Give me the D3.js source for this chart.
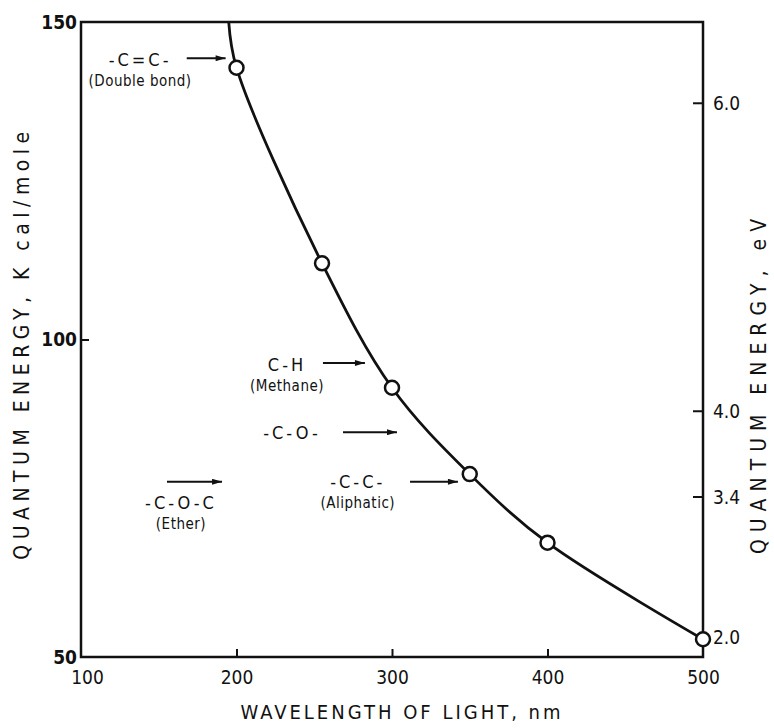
<!DOCTYPE html>
<html>
<head>
<meta charset="utf-8">
<script src="https://cdn.jsdelivr.net/npm/d3@7"></script>
<style>
  body { margin: 0; background: #fff; }
  svg text { font-family: "DejaVu Sans Condensed", "Liberation Sans Narrow", sans-serif; fill: #111; }
</style>
</head>
<body>
<svg id="chart" width="774" height="728"></svg>
<script>
// wavelength (nm) vs quantum energy (kcal/mole)
const wavelengths = [200, 255, 300, 350, 400, 500];
const energies = [142.8, 112.0, 92.4, 78.8, 68.0, 52.8];
// curve continues past the first marker up to the top edge
const curveStart = { wl: 195, e: 150 };

const xTicks = [100, 200, 300, 400, 500];
const yTicks = [50, 100, 150];
const evLabels = ["6.0", "4.0", "3.4", "2.0"];
const evAsKcal = [137.2, 88.7, 75.2, 53.1];

// bond annotations: label, sub label, text anchor (wavelength, energy), arrow span in nm and its energy
const bondNames = ["-C=C-", "C-H", "-C-O-", "-C-C-", "-C-O-C"];
const bondNotes = ["(Double bond)", "(Methane)", "", "(Aliphatic)", "(Ether)"];
const bondTextAt = [[138, 144.0], [232.5, 96.0], [235.7, 85.4], [278, 77.6], [164.3, 74.3]];
const bondArrowWl = [[168, 193], [255.6, 282.6], [268.5, 303.2], [311.6, 342.4], [155.3, 190.7]];
const bondArrowE = [144.3, 96.3, 85.4, 77.6, 77.6];

const svg = d3.select("#chart");
const margin = { top: 22, right: 71, bottom: 71, left: 81 };
const W = 774, H = 728;

const x = d3.scaleLinear().domain([100, 500]).range([margin.left, W - margin.right]);
const y = d3.scaleLinear().domain([50, 150]).range([H - margin.bottom, margin.top]);

svg.append("defs").append("marker")
  .attr("id", "head")
  .attr("viewBox", "0 0 10 6")
  .attr("refX", 10).attr("refY", 3)
  .attr("markerWidth", 11).attr("markerHeight", 6)
  .attr("markerUnits", "userSpaceOnUse")
  .attr("orient", "auto")
  .append("path").attr("d", "M0,0L10,3L0,6Z").attr("fill", "#111");

// frame
svg.append("rect")
  .attr("x", x(100)).attr("y", y(150))
  .attr("width", x(500) - x(100)).attr("height", y(50) - y(150))
  .attr("fill", "none").attr("stroke", "#111").attr("stroke-width", 2.5);

// bottom axis, ticks pointing inward
const xAxis = svg.append("g")
  .attr("transform", `translate(0,${y(50)})`)
  .call(d3.axisBottom(x).tickValues(xTicks).tickSize(-8).tickPadding(14).tickFormat(d3.format("d")));
xAxis.select(".domain").remove();
xAxis.selectAll("line").attr("stroke", "#111").attr("stroke-width", 2);
xAxis.selectAll(".tick").filter(d => d === 100 || d === 500).select("line").remove();
xAxis.selectAll("text").attr("font-size", 19).attr("fill", "#111");
xAxis.selectAll(".tick").filter(d => d === 100).select("text").attr("dx", 6);

// left axis
const yAxis = svg.append("g")
  .attr("transform", `translate(${x(100)},0)`)
  .call(d3.axisLeft(y).tickValues(yTicks).tickSize(-8).tickPadding(4).tickFormat(d3.format("d")));
yAxis.select(".domain").remove();
yAxis.selectAll("line").attr("stroke", "#111").attr("stroke-width", 2);
yAxis.selectAll(".tick").filter(d => d !== 100).select("line").remove();
yAxis.selectAll("text").attr("font-size", 19).attr("fill", "#111").attr("font-weight", "bold");

// right axis in eV
const evG = svg.append("g").attr("transform", `translate(${x(500)},0)`);
const evTick = evG.selectAll("g").data(evLabels).join("g")
  .attr("transform", (d, i) => `translate(0,${y(evAsKcal[i])})`);
evTick.filter((d, i) => i < 3).append("line")
  .attr("x1", -10).attr("x2", 0).attr("stroke", "#111").attr("stroke-width", 2);
evTick.append("text")
  .attr("x", 10).attr("dy", "0.35em")
  .attr("font-size", 19)
  .text(d => d);

// curve
const curveData = [curveStart].concat(wavelengths.map((wl, i) => ({ wl, e: energies[i] })));
const line = d3.line().x(d => x(d.wl)).y(d => y(d.e)).curve(d3.curveCatmullRom.alpha(0.5));
svg.append("path")
  .datum(curveData)
  .attr("d", line)
  .attr("fill", "none").attr("stroke", "#111").attr("stroke-width", 2.8);

svg.selectAll("circle.pt")
  .data(wavelengths)
  .join("circle")
  .attr("class", "pt")
  .attr("cx", d => x(d))
  .attr("cy", (d, i) => y(energies[i]))
  .attr("r", 7)
  .attr("fill", "#fff").attr("stroke", "#111").attr("stroke-width", 2.5);

// annotations
const notes = svg.append("g");
bondNames.forEach((name, i) => {
  const [tw, te] = bondTextAt[i];
  notes.append("text")
    .attr("x", x(tw)).attr("y", y(te))
    .attr("text-anchor", "middle").attr("dy", "0.35em")
    .attr("font-size", 18).attr("letter-spacing", 3)
    .text(name);
  if (bondNotes[i]) {
    notes.append("text")
      .attr("x", x(tw)).attr("y", y(te) + 21)
      .attr("text-anchor", "middle").attr("dy", "0.35em")
      .attr("font-size", 15).attr("letter-spacing", 0.5)
      .text(bondNotes[i]);
  }
  notes.append("line")
    .attr("x1", x(bondArrowWl[i][0])).attr("x2", x(bondArrowWl[i][1]))
    .attr("y1", y(bondArrowE[i])).attr("y2", y(bondArrowE[i]))
    .attr("stroke", "#111").attr("stroke-width", 2)
    .attr("marker-end", "url(#head)");
});

// axis titles
svg.append("text")
  .attr("x", (x(100) + x(500)) / 2 + 10).attr("y", 712)
  .attr("text-anchor", "middle").attr("dy", "0.35em")
  .attr("font-size", 20).attr("letter-spacing", 3)
  .text("WAVELENGTH OF LIGHT, nm");

svg.append("text")
  .attr("transform", `translate(22,343) rotate(-90)`)
  .attr("text-anchor", "middle").attr("dy", "0.35em")
  .attr("font-size", 21).attr("letter-spacing", 5.5)
  .text("QUANTUM ENERGY, K cal/mole");

svg.append("text")
  .attr("transform", `translate(759,383) rotate(-90)`)
  .attr("text-anchor", "middle").attr("dy", "0.35em")
  .attr("font-size", 21).attr("letter-spacing", 7)
  .text("QUANTUM ENERGY, eV");
</script>
</body>
</html>
